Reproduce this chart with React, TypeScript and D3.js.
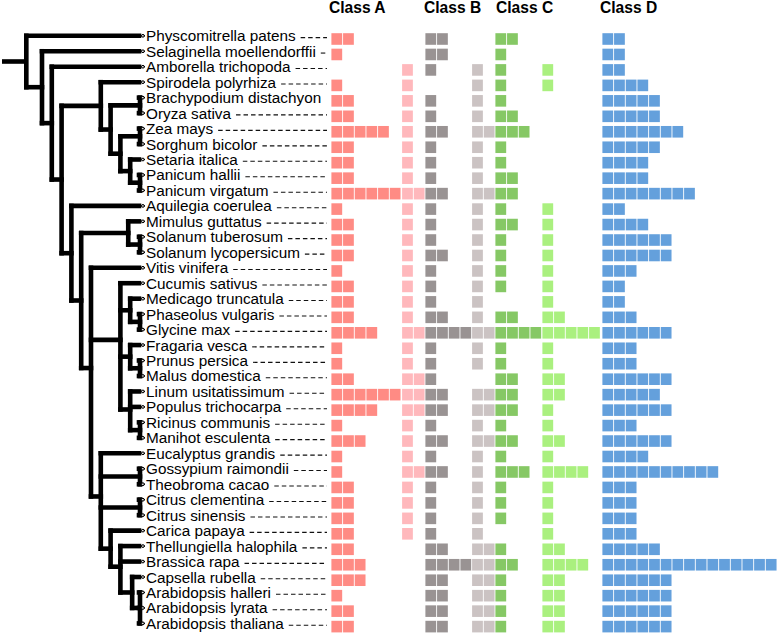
import React, { useEffect, useRef } from "react";
import * as d3 from "d3";

const species = [
  "Physcomitrella patens", "Selaginella moellendorffii", "Amborella trichopoda",
  "Spirodela polyrhiza", "Brachypodium distachyon", "Oryza sativa", "Zea mays",
  "Sorghum bicolor", "Setaria italica", "Panicum hallii", "Panicum virgatum",
  "Aquilegia coerulea", "Mimulus guttatus", "Solanum tuberosum", "Solanum lycopersicum",
  "Vitis vinifera", "Cucumis sativus", "Medicago truncatula", "Phaseolus vulgaris",
  "Glycine max", "Fragaria vesca", "Prunus persica", "Malus domestica",
  "Linum usitatissimum", "Populus trichocarpa", "Ricinus communis", "Manihot esculenta",
  "Eucalyptus grandis", "Gossypium raimondii", "Theobroma cacao", "Citrus clementina",
  "Citrus sinensis", "Carica papaya", "Thellungiella halophila", "Brassica rapa",
  "Capsella rubella", "Arabidopsis halleri", "Arabidopsis lyrata", "Arabidopsis thaliana",
];

const classA = [2,1,0,1,2,2,5,2,2,2,6,1,2,2,2,1,2,2,2,4,1,1,2,6,4,1,3,1,1,2,2,2,2,2,3,3,1,2,2];
const classALight = [0,0,1,1,1,1,1,1,1,1,2,1,1,1,1,1,1,1,1,2,1,1,2,2,2,1,1,1,2,1,1,1,1,0,0,0,0,0,0];
const classB = [2,2,1,0,1,1,2,1,1,1,2,1,1,1,2,1,1,1,2,4,1,1,1,2,2,1,2,1,2,1,1,1,1,2,4,2,2,2,2];
const classBLight = [0,0,1,1,1,1,2,1,1,1,2,1,1,1,1,1,1,1,1,2,1,1,0,2,2,1,2,1,1,1,1,1,1,2,2,2,2,2,2];
const classC = [2,1,1,1,1,2,3,1,1,2,2,1,2,1,1,1,1,0,2,4,1,1,2,2,2,1,2,1,3,1,1,1,0,1,2,1,1,1,1];
const classCLight = [0,0,1,1,0,0,0,0,0,0,0,1,1,1,1,1,1,1,2,5,1,1,2,2,1,1,2,1,4,1,1,1,1,2,4,2,2,2,2];
const classD = [2,2,2,4,5,5,7,5,4,4,8,2,4,6,6,3,2,2,3,6,3,3,6,5,6,3,6,4,10,3,3,3,3,5,15,6,6,6,6];

const classHeaders = ["Class A", "Class B", "Class C", "Class D"];

// Cladogram: lv = node level (horizontal position), c = children; leaves are species names
const treeData: any = { lv: -1.6, c: [
  "Physcomitrella patens",
  { lv: 0, c: [
    "Selaginella moellendorffii",
    { lv: 1, c: [
      "Amborella trichopoda",
      { lv: 2, c: [
        { lv: 6, c: [
          "Spirodela polyrhiza",
          { lv: 7, c: [
            { lv: 10, c: ["Brachypodium distachyon", "Oryza sativa"] },
            { lv: 8, c: [
              { lv: 10, c: ["Zea mays", "Sorghum bicolor"] },
              { lv: 9, c: ["Setaria italica", { lv: 10, c: ["Panicum hallii", "Panicum virgatum"] }] },
            ] },
          ] },
        ] },
        { lv: 3, c: [
          "Aquilegia coerulea",
          { lv: 4, c: [
            { lv: 8.8, c: ["Mimulus guttatus", { lv: 10, c: ["Solanum tuberosum", "Solanum lycopersicum"] }] },
            { lv: 5, c: [
              "Vitis vinifera",
              { lv: 8, c: [
                "Cucumis sativus",
                { lv: 9, c: ["Medicago truncatula", { lv: 10, c: ["Phaseolus vulgaris", "Glycine max"] }] },
                { lv: 9, c: ["Fragaria vesca", { lv: 10, c: ["Prunus persica", "Malus domestica"] }] },
                { lv: 9, c: ["Linum usitatissimum", "Populus trichocarpa", { lv: 10, c: ["Ricinus communis", "Manihot esculenta"] }] },
              ] },
              { lv: 6, c: [
                "Eucalyptus grandis",
                { lv: 10, c: ["Gossypium raimondii", "Theobroma cacao"] },
                { lv: 10, c: ["Citrus clementina", "Citrus sinensis"] },
                { lv: 7, c: [
                  "Carica papaya",
                  { lv: 8, c: [
                    "Thellungiella halophila",
                    "Brassica rapa",
                    { lv: 9.2, c: ["Capsella rubella", { lv: 10, c: ["Arabidopsis halleri", "Arabidopsis lyrata", "Arabidopsis thaliana"] }] },
                  ] },
                ] },
              ] },
            ] },
          ] },
        ] },
      ] },
    ] },
  ] },
] };

const W = 778;
const H = 634;
const FONT = "'Liberation Sans', Arial, sans-serif";

export default function App() {
  const ref = useRef<SVGSVGElement>(null);

  useEffect(() => {
    const svg = d3.select(ref.current);
    svg.selectAll("*").remove();

    const y = d3.scaleLinear().domain([0, species.length - 1]).range([35.8, 623.4]);
    const xTree = d3.scaleLinear().domain([0, 10]).range([42, 140]);
    const leafX = 143;
    const rootX = 2;

    const root: any = d3.hierarchy(treeData, (d: any) => (typeof d === "string" ? null : d.c));
    root.eachAfter((n: any) => {
      if (!n.children) {
        n.py = y(species.indexOf(n.data));
        n.px = leafX;
      } else {
        n.py = d3.mean(n.children, (c: any) => c.py);
        n.px = xTree(n.data.lv);
      }
    });

    const gTree = svg.append("g")
      .attr("stroke", "#000")
      .attr("stroke-width", 4.6)
      .attr("stroke-linecap", "square")
      .attr("fill", "none");

    // root stub
    gTree.append("line")
      .attr("x1", rootX).attr("x2", root.px)
      .attr("y1", root.py).attr("y2", root.py)
      .attr("stroke-linecap", "butt");

    root.descendants().forEach((n: any) => {
      if (n.children) {
        const ys = n.children.map((c: any) => c.py);
        gTree.append("line")
          .attr("x1", n.px).attr("x2", n.px)
          .attr("y1", d3.min(ys)).attr("y2", d3.max(ys));
      }
      if (n.parent) {
        const isLeaf = !n.children;
        gTree.append("line")
          .attr("x1", n.parent.px).attr("x2", isLeaf ? n.px - 4 : n.px)
          .attr("y1", n.py).attr("y2", n.py);
        if (isLeaf) {
          gTree.append("line")
            .attr("x1", n.px - 4).attr("x2", n.px)
            .attr("y1", n.py).attr("y2", n.py)
            .attr("stroke-width", 1.6)
            .attr("stroke-linecap", "butt");
          gTree.append("circle")
            .attr("cx", n.px).attr("cy", n.py).attr("r", 1.4)
            .attr("fill", "#fff").attr("stroke-width", 1);
        }
      }
    });

    // labels + dashed leaders
    const labelX = 146;
    const leaderEnd = 327;
    const gLab = svg.append("g");
    species.forEach((s, i) => {
      const t = gLab.append("text")
        .attr("x", labelX)
        .attr("y", y(i) + 5.5)
        .attr("font-family", FONT)
        .attr("font-size", 15.3)
        .attr("fill", "#000")
        .text(s);
      const len = (t.node() as SVGTextElement).getComputedTextLength();
      const start = labelX + len + 5;
      if (leaderEnd - start > 3) {
        gLab.append("line")
          .attr("x1", start).attr("x2", leaderEnd)
          .attr("y1", y(i) + 1.8).attr("y2", y(i) + 1.8)
          .attr("stroke", "#111")
          .attr("stroke-width", 1.1)
          .attr("stroke-dasharray", "4.5,3");
      }
    });

    // square columns
    const cell = d3.scaleLinear().domain([0, 1]).range([0, 11.67]);
    const columns = [
      { values: classA, x0: 331, color: "#ff8b84" },
      { values: classALight, x0: 401.7, color: "#ffb8bc" },
      { values: classB, x0: 425, color: "#999393" },
      { values: classBLight, x0: 471.7, color: "#cbc3c3" },
      { values: classC, x0: 495, color: "#86c865" },
      { values: classCLight, x0: 542, color: "#aaf07f" },
      { values: classD, x0: 602, color: "#64a0dc" },
    ];
    const gSq = svg.append("g");
    columns.forEach((col) => {
      col.values.forEach((v, i) => {
        d3.range(v).forEach((k) => {
          gSq.append("rect")
            .attr("x", col.x0 + cell(k) + 0.4)
            .attr("y", y(i) - 2.6)
            .attr("width", cell(1) - 0.9)
            .attr("height", 11.6)
            .attr("fill", col.color);
        });
      });
    });

    // headers
    const headerX = [329, 424, 496, 600];
    svg.append("g").selectAll("text")
      .data(classHeaders)
      .join("text")
      .attr("x", (_, i) => headerX[i])
      .attr("y", 13)
      .attr("font-family", FONT)
      .attr("font-weight", "bold")
      .attr("font-size", 15.6)
      .attr("fill", "#000")
      .text((d) => d);
  }, []);

  return (
    <svg
      ref={ref}
      width={W}
      height={H}
      style={{ position: "absolute", left: 0, top: 0, background: "#fff" }}
    />
  );
}
